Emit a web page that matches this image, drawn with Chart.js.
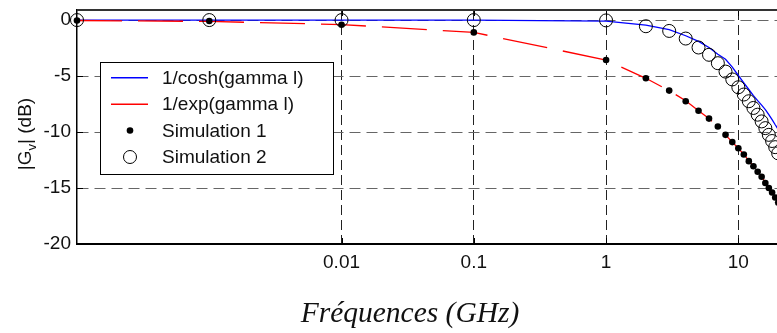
<!DOCTYPE html>
<html>
<head>
<meta charset="utf-8">
<script src="https://cdn.jsdelivr.net/npm/chart.js@4"></script>
<style>
html,body{margin:0;padding:0;background:#fff;overflow:hidden}
canvas{display:block}
</style>
</head>
<body>
<canvas id="c" width="777" height="333" style="width:777px;height:333px"></canvas>
<script>
// ---- data ----
const freqGHz = [0.0001, 0.001, 0.01, 0.1, 1, 2, 3, 4, 5, 6, 7, 8, 9, 10, 11, 12, 13, 14, 15, 16, 17, 18, 19, 20, 21, 22];
const coshDB = [0, 0, 0, -0.01, -0.1, -0.45, -0.85, -1.4, -1.9, -2.45, -3.05, -3.5, -4.2, -4.95, -5.6, -6.2, -6.75, -7.2, -7.6, -8.0, -8.45, -8.9, -9.35, -9.75, -10.15, -10.5];
const expDB = [-0.04, -0.12, -0.4, -1.1, -3.57, -5.2, -6.3, -7.2, -8.1, -8.8, -9.5, -10.25, -10.9, -11.45, -12.0, -12.55, -13.05, -13.55, -14.0, -14.5, -14.95, -15.4, -15.85, -16.3, -16.7, -17.1];
const sim1DB = [-0.04, -0.08, -0.42, -1.1, -3.57, -5.2, -6.3, -7.25, -8.1, -8.8, -9.5, -10.25, -10.9, -11.45, -12.0, -12.6, -13.05, -13.55, -14.0, -14.55, -15.0, -15.4, -15.85, -16.3];
const sim2DB = [0, 0, 0, 0, -0.03, -0.55, -0.97, -1.65, -2.45, -3.1, -3.85, -4.6, -5.3, -6.0, -6.65, -7.25, -7.85, -8.45, -9.05, -9.65, -10.25, -10.8, -11.35, -11.9];
const seriesLabels = ['1/cosh(gamma l)', '1/exp(gamma l)', 'Simulation 1', 'Simulation 2'];
const xTicks = [0.01, 0.1, 1, 10];
const xTickLabels = ['0.01', '0.1', '1', '10'];
const yTicks = [-20, -15, -10, -5, 0];
const yTickLabels = ['-20', '-15', '-10', '-5', '0'];
const xTitle = 'Fréquences (GHz)';
const yTitleParts = ['|G', 'v', '| (dB)'];

const pts = (vals) => vals.map((v, i) => ({x: freqGHz[i], y: v}));
const SANS = "'Liberation Sans', Arial, Helvetica, sans-serif";
const SERIF = "'Liberation Serif', 'Times New Roman', Times, serif";

const decor = {
  id: 'decor',
  beforeDatasetsDraw(chart) {
    const {ctx, chartArea: a, scales: {x, y}} = chart;
    ctx.save();
    ctx.strokeStyle = '#000';
    ctx.lineWidth = 1;
    ctx.setLineDash([]);
    ctx.beginPath();
    x.ticks.forEach(t => {
      const px = Math.round(x.getPixelForValue(t.value)) + 0.5;
      ctx.moveTo(px, a.bottom); ctx.lineTo(px, a.bottom - 6);
      ctx.moveTo(px, a.top); ctx.lineTo(px, a.top + 6);
    });
    y.ticks.forEach(t => {
      const py = Math.round(y.getPixelForValue(t.value)) + 0.5;
      ctx.moveTo(a.left, py); ctx.lineTo(a.left + 6, py);
    });
    ctx.stroke();
    ctx.strokeStyle = '#333';
    ctx.lineWidth = 2;
    ctx.beginPath();
    ctx.moveTo(a.left, a.top); ctx.lineTo(a.right, a.top);
    ctx.stroke();
    ctx.restore();
  },
  afterDraw(chart) {
    const {ctx} = chart;
    const ds = chart.data.datasets;
    ctx.save();
    // legend box
    const bx = 100.5, by = 62.5, bw = 233, bh = 112;
    ctx.fillStyle = '#fff';
    ctx.fillRect(bx, by, bw, bh);
    ctx.strokeStyle = '#000';
    ctx.lineWidth = 1;
    ctx.setLineDash([]);
    ctx.strokeRect(bx, by, bw, bh);
    const rows = [77.5, 104, 130.5, 157];
    ds.forEach((d, i) => {
      const ry = rows[i];
      if (d.showLine !== false) {
        ctx.strokeStyle = d.borderColor;
        ctx.lineWidth = 1.6;
        ctx.setLineDash(d.borderDash || []);
        ctx.beginPath();
        ctx.moveTo(111, ry + 0.3); ctx.lineTo(148, ry + 0.3);
        ctx.stroke();
        ctx.setLineDash([]);
      } else {
        ctx.beginPath();
        ctx.arc(130, ry, d.pointRadius, 0, Math.PI * 2);
        if (d.pointBackgroundColor && d.pointBackgroundColor !== 'rgba(0,0,0,0)') {
          ctx.fillStyle = d.pointBackgroundColor; ctx.fill();
        }
        if (d.pointBorderWidth > 0) {
          ctx.strokeStyle = d.pointBorderColor; ctx.lineWidth = d.pointBorderWidth; ctx.stroke();
        }
      }
      ctx.fillStyle = '#111';
      ctx.font = '19px ' + SANS;
      ctx.textBaseline = 'middle';
      ctx.textAlign = 'left';
      ctx.fillText(d.label, 162, ry + 1);
    });
    // x title
    ctx.fillStyle = '#111';
    ctx.font = 'italic 29.5px ' + SERIF;
    ctx.textAlign = 'center';
    ctx.textBaseline = 'alphabetic';
    ctx.fillText(xTitle, 410, 322);
    // y title (rotated, with subscript)
    ctx.translate(31, 134);
    ctx.rotate(-Math.PI / 2);
    const big = '19px ' + SANS, small = '13px ' + SANS;
    ctx.font = big; const w0 = ctx.measureText(yTitleParts[0]).width;
    ctx.font = small; const w1 = ctx.measureText(yTitleParts[1]).width;
    ctx.font = big; const w2 = ctx.measureText(yTitleParts[2]).width;
    let sx = -(w0 + w1 + w2) / 2;
    ctx.textAlign = 'left';
    ctx.font = big; ctx.fillText(yTitleParts[0], sx, 0); sx += w0;
    ctx.font = small; ctx.fillText(yTitleParts[1], sx, 5); sx += w1;
    ctx.font = big; ctx.fillText(yTitleParts[2], sx, 0);
    ctx.restore();
  }
};

new Chart(document.getElementById('c'), {
  type: 'line',
  data: {
    datasets: [
      {label: seriesLabels[0], data: pts(coshDB), borderColor: '#0000ff', borderWidth: 1.3, pointRadius: 0, tension: 0, order: 4, clip: false},
      {label: seriesLabels[1], data: pts(expDB), borderColor: '#ff0000', borderWidth: 1.3, borderDash: [45, 16], pointRadius: 0, tension: 0, order: 3, clip: false},
      {label: seriesLabels[2], data: pts(sim1DB), showLine: false, pointRadius: 3.3, pointBackgroundColor: '#000', pointBorderColor: '#000', pointBorderWidth: 0, order: 2, clip: false},
      {label: seriesLabels[3], data: pts(sim2DB), showLine: false, pointRadius: 6.5, pointBackgroundColor: 'rgba(0,0,0,0)', pointBorderColor: '#000', pointBorderWidth: 1, order: 1, clip: false}
    ]
  },
  options: {
    responsive: false,
    animation: false,
    devicePixelRatio: 1,
    layout: {autoPadding: false, padding: {top: 10, left: 0, right: 0, bottom: 0}},
    plugins: {legend: {display: false}, tooltip: {enabled: false}},
    elements: {point: {hoverRadius: 0}},
    scales: {
      x: {
        type: 'logarithmic',
        min: 0.0001,
        max: 19.6,
        afterBuildTicks: (s) => { s.ticks = xTicks.map(v => ({value: v})); },
        afterFit: (s) => { s.height = 89; s.paddingLeft = 0; s.paddingRight = 0; },
        ticks: {
          callback: (v, i) => xTickLabels[i],
          font: {family: SANS, size: 19},
          color: '#111',
          padding: 7,
          maxRotation: 0,
          autoSkip: false
        },
        grid: {color: '#222', lineWidth: 1, drawTicks: false},
        border: {display: true, color: '#000', width: 2, dash: [10, 5]}
      },
      y: {
        type: 'linear',
        min: -20,
        max: 0.9,
        afterBuildTicks: (s) => { s.ticks = yTicks.map(v => ({value: v})); },
        afterFit: (s) => { s.width = 77; s.paddingTop = 0; s.paddingBottom = 0; },
        ticks: {
          callback: (v, i) => yTickLabels[i],
          font: {family: SANS, size: 19},
          color: '#111',
          padding: 6,
          autoSkip: false
        },
        grid: {color: '#666', lineWidth: 1, drawTicks: false},
        border: {display: true, color: '#000', width: 1.5, dash: [11, 6]}
      }
    }
  },
  plugins: [decor]
});
</script>
</body>
</html>
